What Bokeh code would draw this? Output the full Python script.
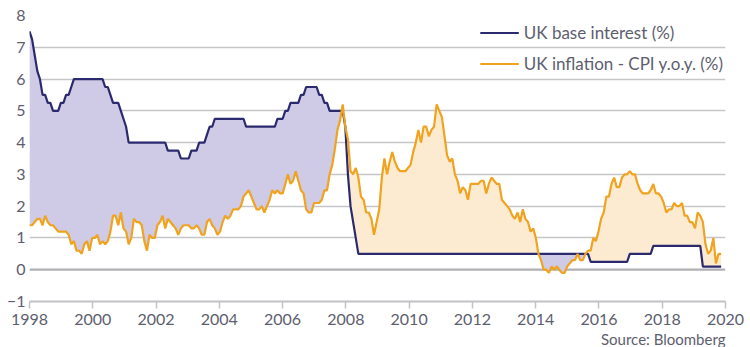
import numpy as np
from bokeh.plotting import figure
from bokeh.models import Range1d, FixedTicker, Span, Legend, LegendItem, Title
from bokeh.embed import file_html
from bokeh.resources import INLINE

first_x = 1998.0          # position of first observation on the time axis
obs_step = 0.0825         # spacing between observations on the time axis (years)

cpi = [
    1.4, 1.4, 1.5, 1.6,
    1.6, 1.4, 1.7, 1.5, 1.4, 1.4, 1.3, 1.2, 1.2, 1.2, 1.2, 1.1,
    0.8, 0.9, 0.6, 0.6, 0.5, 0.8, 0.9, 0.6, 1.0, 1.0, 1.1, 0.8,
    0.9, 0.8, 0.9, 1.2, 1.7, 1.7, 1.4, 1.8, 1.3, 1.2, 0.8, 1.0,
    1.6, 1.5, 1.5, 1.4, 0.9, 0.6, 1.1, 1.0, 1.0, 1.4, 1.5, 1.7,
    1.3, 1.6, 1.5, 1.4, 1.3, 1.1, 1.3, 1.4, 1.4, 1.4, 1.3, 1.3,
    1.4, 1.3, 1.1, 1.1, 1.5, 1.6, 1.4, 1.3, 1.1, 1.2, 1.5, 1.7,
    1.6, 1.7, 1.9, 1.9, 1.9, 2.0, 2.3, 2.4, 2.5, 2.3, 2.1, 1.9,
    1.9, 2.0, 1.8, 2.0, 2.2, 2.5, 2.4, 2.5, 2.4, 2.4, 2.7, 3.0,
    2.7, 2.8, 3.1, 2.8, 2.5, 2.4, 1.9, 1.8, 1.8, 2.1, 2.1, 2.1,
    2.2, 2.5, 2.5, 3.0, 3.3, 3.8, 4.4, 4.7, 5.2, 4.5, 4.1, 3.1,
    3.0, 3.2, 2.9, 2.3, 2.2, 1.8, 1.8, 1.6, 1.1, 1.5, 1.9, 2.9,
    3.5, 3.0, 3.4, 3.7, 3.4, 3.2, 3.1, 3.1, 3.1, 3.2, 3.3, 3.7,
    4.0, 4.4, 4.0, 4.5, 4.5, 4.2, 4.4, 4.5, 5.2, 5.0, 4.8, 4.2,
    3.6, 3.4, 3.5, 3.0, 2.8, 2.4, 2.6, 2.5, 2.2, 2.7, 2.7, 2.7,
    2.7, 2.8, 2.8, 2.4, 2.7, 2.9, 2.8, 2.7, 2.7, 2.2, 2.1, 2.0,
    1.9, 1.7, 1.6, 1.8, 1.5, 1.9, 1.6, 1.5, 1.2, 1.3, 1.0, 0.5,
    0.3, 0.0, 0.0, -0.1, 0.1, 0.0, 0.1, 0.0, -0.1, -0.1, 0.1, 0.2,
    0.3, 0.3, 0.5, 0.3, 0.3, 0.5, 0.6, 0.6, 1.0, 0.9, 1.2, 1.6,
    1.8, 2.3, 2.3, 2.7, 2.9, 2.6, 2.6, 2.9, 3.0, 3.0, 3.1, 3.0,
    3.0, 2.7, 2.5, 2.4, 2.4, 2.4, 2.5, 2.7, 2.4, 2.4, 2.3, 2.1,
    1.8, 1.9, 1.9, 2.1, 2.0, 2.0, 2.1, 1.7, 1.7, 1.5, 1.5, 1.3,
    1.8, 1.7, 1.5, 0.8, 0.5, 0.6, 1.0, 0.2, 0.5, 0.5,
]

base_rate = [
    7.5, 7.25, 6.75, 6.25,
    6.0, 5.5, 5.5, 5.25, 5.25, 5.0, 5.0, 5.0, 5.25, 5.25, 5.5, 5.5,
    5.75, 6.0, 6.0, 6.0, 6.0, 6.0, 6.0, 6.0, 6.0, 6.0, 6.0, 6.0,
    6.0, 5.75, 5.75, 5.5, 5.25, 5.25, 5.25, 5.0, 4.75, 4.5, 4.0, 4.0,
    4.0, 4.0, 4.0, 4.0, 4.0, 4.0, 4.0, 4.0, 4.0, 4.0, 4.0, 4.0,
    4.0, 3.75, 3.75, 3.75, 3.75, 3.75, 3.5, 3.5, 3.5, 3.5, 3.75, 3.75,
    3.75, 4.0, 4.0, 4.0, 4.25, 4.5, 4.5, 4.75, 4.75, 4.75, 4.75, 4.75,
    4.75, 4.75, 4.75, 4.75, 4.75, 4.75, 4.75, 4.5, 4.5, 4.5, 4.5, 4.5,
    4.5, 4.5, 4.5, 4.5, 4.5, 4.5, 4.5, 4.75, 4.75, 4.75, 5.0, 5.0,
    5.25, 5.25, 5.25, 5.25, 5.5, 5.5, 5.75, 5.75, 5.75, 5.75, 5.75, 5.5,
    5.5, 5.25, 5.25, 5.0, 5.0, 5.0, 5.0, 5.0, 5.0, 4.5, 3.0, 2.0,
    1.5, 1.0, 0.5, 0.5, 0.5, 0.5, 0.5, 0.5, 0.5, 0.5, 0.5, 0.5,
    0.5, 0.5, 0.5, 0.5, 0.5, 0.5, 0.5, 0.5, 0.5, 0.5, 0.5, 0.5,
    0.5, 0.5, 0.5, 0.5, 0.5, 0.5, 0.5, 0.5, 0.5, 0.5, 0.5, 0.5,
    0.5, 0.5, 0.5, 0.5, 0.5, 0.5, 0.5, 0.5, 0.5, 0.5, 0.5, 0.5,
    0.5, 0.5, 0.5, 0.5, 0.5, 0.5, 0.5, 0.5, 0.5, 0.5, 0.5, 0.5,
    0.5, 0.5, 0.5, 0.5, 0.5, 0.5, 0.5, 0.5, 0.5, 0.5, 0.5, 0.5,
    0.5, 0.5, 0.5, 0.5, 0.5, 0.5, 0.5, 0.5, 0.5, 0.5, 0.5, 0.5,
    0.5, 0.5, 0.5, 0.5, 0.5, 0.5, 0.5, 0.25, 0.25, 0.25, 0.25, 0.25,
    0.25, 0.25, 0.25, 0.25, 0.25, 0.25, 0.25, 0.25, 0.25, 0.25, 0.5, 0.5,
    0.5, 0.5, 0.5, 0.5, 0.5, 0.5, 0.5, 0.75, 0.75, 0.75, 0.75, 0.75,
    0.75, 0.75, 0.75, 0.75, 0.75, 0.75, 0.75, 0.75, 0.75, 0.75, 0.75, 0.75,
    0.75, 0.75, 0.1, 0.1, 0.1, 0.1, 0.1, 0.1, 0.1, 0.1,
]

x_ticks = [1998, 2000, 2002, 2004, 2006, 2008, 2010, 2012, 2014, 2016, 2018, 2020]
y_ticks = [-1, 0, 1, 2, 3, 4, 5, 6, 7, 8]
series_names = ["UK base interest (%)", "UK inflation - CPI y.o.y. (%)"]
source_text = "Source: Bloomberg"

# ---------------- derived arrays ----------------
cpi_arr = np.array(cpi, dtype=float)
base_arr = np.array(base_rate, dtype=float)
x = first_x + np.arange(len(cpi_arr)) * obs_step
top = np.maximum(cpi_arr, base_arr)

FONT = "Lato"
TXT = "#5d5e6e"

p = figure(width=750, height=347,
           x_range=Range1d(1998, 2020), y_range=Range1d(-1, 8),
           output_backend="svg", toolbar_location=None,
           min_border_left=29, min_border_right=25,
           min_border_top=15, min_border_bottom=0)
p.outline_line_color = None
p.background_fill_color = "white"
p.border_fill_color = "white"

# grid
p.xgrid.grid_line_color = None
p.ygrid.ticker = FixedTicker(ticks=[t for t in y_ticks if t > 0])
p.ygrid.grid_line_color = "#c6c6c9"
p.ygrid.grid_line_width = 1.5

zero = Span(location=0, dimension="width", line_color="#b0b0b3", line_width=2.2, level="underlay")
p.add_layout(zero)

# fills
p.varea(x=x, y1=cpi_arr, y2=top, fill_color="#cfcae5")   # base above inflation
p.varea(x=x, y1=base_arr, y2=top, fill_color="#fdebd1")  # inflation above base

# lines
r_base = p.line(x, base_arr, line_color="#2c2a6f", line_width=2.2)
r_cpi = p.line(x, cpi_arr, line_color="#f0a31e", line_width=2.2)

# axes
p.xaxis.ticker = FixedTicker(ticks=x_ticks)
p.xaxis.axis_line_color = "#c2c2c5"
p.xaxis.axis_line_width = 2
p.xaxis.major_tick_line_color = "#c2c2c5"
p.xaxis.major_tick_line_width = 1.5
p.xaxis.major_tick_out = 7
p.xaxis.major_tick_in = 0
p.xaxis.minor_tick_line_color = None
p.xaxis.major_label_standoff = 5
p.xaxis.major_label_text_font = FONT
p.xaxis.major_label_text_font_size = "16px"
p.xaxis.major_label_text_color = TXT

p.yaxis.ticker = FixedTicker(ticks=y_ticks)
p.yaxis.axis_line_color = None
p.yaxis.major_tick_line_color = None
p.yaxis.minor_tick_line_color = None
p.yaxis.major_tick_out = 0
p.yaxis.major_label_standoff = 4
p.yaxis.major_label_text_font = FONT
p.yaxis.major_label_text_font_size = "16px"
p.yaxis.major_label_text_color = TXT

# legend
legend = Legend(items=[LegendItem(label=series_names[0], renderers=[r_base]),
                       LegendItem(label=series_names[1], renderers=[r_cpi])],
                location="top_right", orientation="vertical",
                glyph_width=39, glyph_height=31, label_height=31,
                label_standoff=5, spacing=0, padding=0, margin=2,
                label_text_font=FONT, label_text_font_size="17px",
                label_text_color=TXT,
                background_fill_alpha=0, border_line_color=None)
p.add_layout(legend)

src = Title(text=source_text, align="right", text_font=FONT, text_font_size="15px",
            text_font_style="normal", text_color=TXT, standoff=0, offset=0)
p.add_layout(src, "below")

open("out.html", "w").write(file_html(p, INLINE))
